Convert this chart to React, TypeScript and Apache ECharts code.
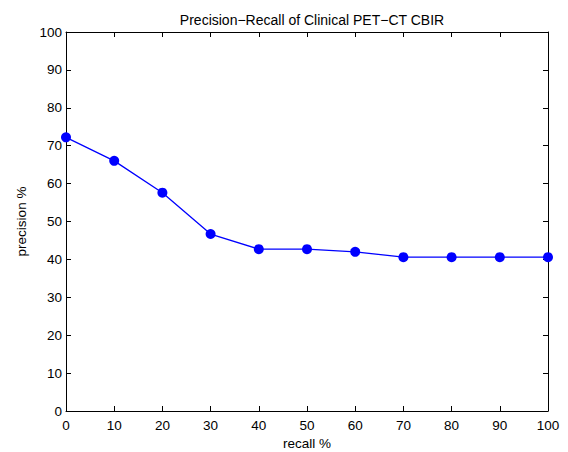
import React, { useEffect, useRef } from "react";
import * as echarts from "echarts";

const recall = [0, 10, 20, 30, 40, 50, 60, 70, 80, 90, 100];
const precision = [72.2, 66, 57.6, 46.7, 42.7, 42.7, 42.0, 40.6, 40.6, 40.6, 40.6];
const titleText = "Precision\u2212Recall of Clinical PET\u2212CT CBIR";
const xLabel = "recall %";
const yLabel = "precision %";

export default function App() {
  const ref = useRef<HTMLDivElement>(null);
  useEffect(() => {
    if (!ref.current) return;
    const chart = echarts.init(ref.current, null, { renderer: "svg" });
    const font = "Liberation Sans, Arial, Helvetica, sans-serif";
    const fs = 13.5;
    const axisCommon = {
      type: "value" as const,
      min: 0,
      max: 100,
      interval: 10,
      axisLine: { show: true, onZero: false, lineStyle: { color: "#000", width: 1 } },
      axisTick: { show: true, inside: true, length: 5, lineStyle: { color: "#000" } },
      splitLine: { show: false },
    };
    chart.setOption({
      animation: false,
      backgroundColor: "#fff",
      title: {
        text: titleText,
        left: 307,
        textAlign: "center",
        top: 8,
        textStyle: { fontFamily: font, fontSize: 14, fontWeight: "normal", color: "#000" },
      },
      grid: { left: 66, right: 20, top: 32, bottom: 41, containLabel: false, outerBoundsMode: "none" },
      xAxis: [
        {
          ...axisCommon,
          position: "bottom",
          name: xLabel,
          nameLocation: "middle",
          nameGap: 24,
          nameTextStyle: { fontFamily: font, fontSize: fs, color: "#000" },
          axisLabel: { fontFamily: font, fontSize: fs, color: "#000", margin: 7 },
        },
        { ...axisCommon, position: "top", axisLabel: { show: false } },
      ],
      yAxis: [
        {
          ...axisCommon,
          position: "left",
          name: yLabel,
          nameLocation: "middle",
          nameGap: 37,
          nameTextStyle: { fontFamily: font, fontSize: fs, color: "#000" },
          axisLabel: { fontFamily: font, fontSize: fs, color: "#000", margin: 4 },
        },
        { ...axisCommon, position: "right", axisLabel: { show: false } },
      ],
      series: [
        {
          type: "line",
          data: recall.map((r, i) => [r, precision[i]]),
          xAxisIndex: 0,
          yAxisIndex: 0,
          symbol: "circle",
          symbolSize: 10,
          lineStyle: { color: "#0000ff", width: 1.3 },
          itemStyle: { color: "#0000ff" },
        },
      ],
    });
    return () => chart.dispose();
  }, []);
  return <div ref={ref} style={{ width: 568, height: 452, position: "absolute", left: 0, top: 0 }} />;
}
